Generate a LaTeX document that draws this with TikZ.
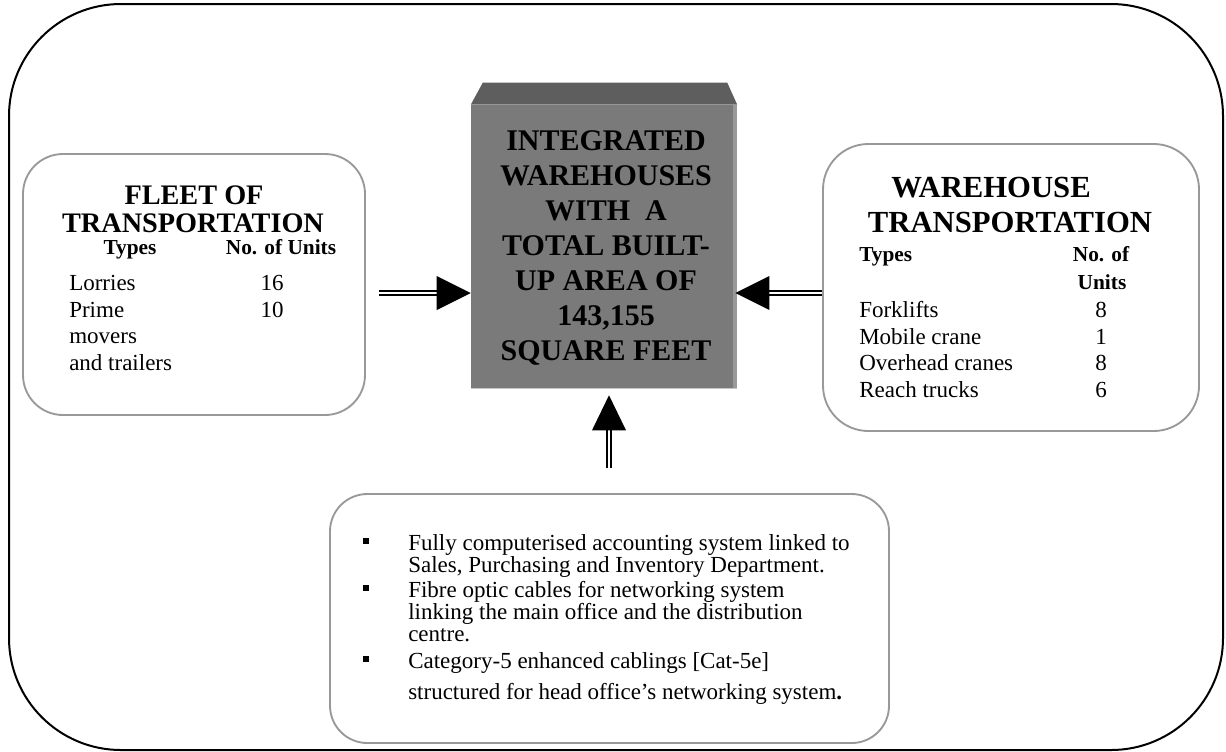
\documentclass[tikz,border=0pt]{standalone}
\usepackage{fontspec}
\setmainfont{Liberation Serif}
\usetikzlibrary{calc}
\begin{document}
\begin{tikzpicture}[x=0.75pt,y=-0.75pt,
 frame/.style={draw=black,line width=1.5pt,rounded corners=84pt},
 panel/.style={draw=black!40,line width=1.4pt,fill=white,inner sep=0pt},
 core/.style={fill=black!52,inner sep=0pt},
 ctext/.style={font=\fontsize{22.5}{22.5}\bfseries,anchor=base,inner sep=0pt},
 ttl/.style={font=\fontsize{21.2}{21.2}\bfseries,anchor=base,inner sep=0pt},
 ttlb/.style={font=\fontsize{23}{23}\bfseries,anchor=base,inner sep=0pt},
 hdr/.style={font=\fontsize{16}{16}\bfseries,anchor=base,inner sep=0pt},
 hdrw/.style={hdr,anchor=base west},
 body/.style={font=\fontsize{17.25}{17.25}\selectfont,anchor=base west,inner sep=0pt},
 num/.style={body,anchor=base},
 shaft/.style={draw=black,double=white,double distance=1.6pt,line width=1.8pt},
 head/.style={fill=black},
 bullet/.style={fill=black,minimum width=4.5pt,minimum height=5pt,inner sep=0pt}
]
\useasboundingbox (0,0) rectangle (1226,751);
\draw[frame] (9,4) rectangle (1223,750);

% panels
\node[panel,rounded corners=30pt,minimum width=256.5pt,minimum height=195.75pt] (fleet) at (194,284.5) {};
\node[panel,rounded corners=34pt,minimum width=282pt,minimum height=215.25pt] (wt) at (1011,287.5) {};
\node[panel,rounded corners=28pt,minimum width=419.25pt,minimum height=186.75pt] (sys) at (609.5,618.5) {};

% central block
\node[core,minimum width=199.5pt,minimum height=212.25pt] (wh) at (604,246.5) {};
\fill[black!63] (wh.north west) -- ($(wh.north west)+(12,-22)$) -- ($(wh.north east)+(-10,-22)$) -- (wh.north east) -- cycle;
\fill[black!40] ($(wh.north east)+(-4,0)$) rectangle (wh.south east);
\draw[black!22,line width=1pt] (wh.south west) -- (wh.south east);

\foreach \t [count=\i] in {INTEGRATED, WAREHOUSES, WITH\ \ A, TOTAL BUILT-, UP AREA OF, {143,155}, SQUARE FEET}
  \node[ctext] (c\i) at (606,115+35*\i) {\t};

% left panel text
\node[ttl] (f1) at (194,204) {FLEET OF};
\node[ttl] (f2) at (193,232) {TRANSPORTATION};
\node[hdr] (f3) at (130,254) {Types};
\node[hdr] (f4) at (281,254) {No. of Units};
\node[body] (f5) at (69,290) {Lorries};
\node[num] (f6) at (272,290) {16};
\node[body] (f7) at (69,317) {Prime};
\node[num] (f8) at (272,317) {10};
\node[body] (f9) at (69,343) {movers};
\node[body] (f10) at (69,370) {and trailers};

% right panel text
\node[ttlb] (w1) at (991,197) {WAREHOUSE};
\node[ttlb] (w2) at (1010,232) {TRANSPORTATION};
\node[hdrw] (w3) at (859,261) {Types};
\node[hdr] (w4) at (1101,261) {No. of};
\node[hdr] (w5) at (1102,289) {Units};
\node[body] (w6) at (859,317) {Forklifts};
\node[num] (w7) at (1101,317) {8};
\node[body] (w8) at (859,344) {Mobile crane};
\node[num] (w9) at (1101,344) {1};
\node[body] (w10) at (859,370) {Overhead cranes};
\node[num] (w11) at (1101,370) {8};
\node[body] (w12) at (859,397) {Reach trucks};
\node[num] (w13) at (1101,397) {6};

% bottom panel text
\node[bullet] (b1) at (366,541) {};
\node[bullet] (b2) at (366,588) {};
\node[bullet] (b3) at (366,659) {};
\node[body] (s1) at (408,550) {Fully computerised accounting system linked to};
\node[body] (s2) at (408,572) {Sales, Purchasing and Inventory Department.};
\node[body] (s3) at (408,597) {Fibre optic cables for networking system};
\node[body] (s4) at (408,619) {linking the main office and the distribution};
\node[body] (s5) at (408,641) {centre.};
\node[body] (s6) at (408,668) {Category-5 enhanced cablings [Cat-5e]};
\node[body] (s7) at (408,699) {structured for head office’s networking system{\bfseries .}};

% connectors
\draw[shaft] ($(fleet.east)+(13,8.5)$) -- ($(wh.west)+(-34,46.5)$);
\fill[head] ($(wh.west)+(0,46.5)$) -- ++(-34,-17) -- ++(0,34) -- cycle;
\draw[shaft] ($(wt.west)+(0,5.5)$) -- ($(wh.east)+(31,46.5)$);
\fill[head] ($(wh.east)+(-2,46.5)$) -- ++(34,-17) -- ++(0,34) -- cycle;
\draw[shaft] ($(sys.north)+(-0.5,-25)$) -- ($(wh.south)+(5,42)$);
\fill[head] ($(wh.south)+(5,7)$) -- ++(-17,35) -- ++(34,0) -- cycle;
\end{tikzpicture}
\end{document}
